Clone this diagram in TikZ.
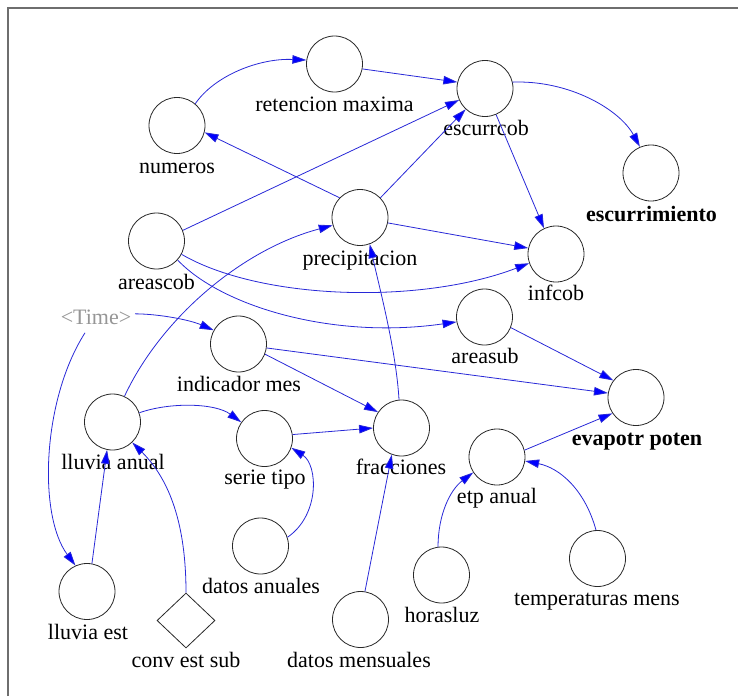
\documentclass[tikz,border=0pt]{standalone}
\usepackage{fontspec}
\setmainfont{Liberation Serif}
\usetikzlibrary{arrows.meta,shapes.geometric}
\definecolor{linkblue}{RGB}{40,40,215}
\definecolor{framegray}{RGB}{110,110,110}
\definecolor{timegray}{RGB}{150,150,150}
\definecolor{rim}{RGB}{40,40,40}
\begin{document}
\begin{tikzpicture}[x=1pt,y=-1pt,
  var/.style={circle,draw=rim,line width=0.8pt,minimum size=56pt,inner sep=0pt},
  lab/.style={anchor=base,font=\fontsize{22}{26}\selectfont,inner sep=0pt},
  blab/.style={lab,font=\fontsize{22}{26}\selectfont\bfseries},
  link/.style={draw=linkblue,line width=0.8pt,-{Triangle[length=14pt,width=8.5pt,fill=blue]}},
]
\useasboundingbox (0,0) rectangle (738,696);
% sheet border (top and left edges)
\draw[framegray,line width=1.2pt] (8,696) -- (8,8) -- (738,8);

% variables
\node[var] (ret)   at (334.5,64)  {};
\node[var] (num)   at (177,125.5) {};
\node[var] (acob)  at (156.5,241) {};
\node[var] (prec)  at (360,217.5) {};
\node[var] (escob) at (485,88.5)  {};
\node[var] (escu)  at (651,173)   {};
\node[var] (inf)   at (556,254)   {};
\node[var] (asub)  at (484.5,317) {};
\node[var] (ind)   at (238.5,344) {};
\node[var] (lla)   at (112.5,422) {};
\node[var] (ser)   at (264.5,438.5) {};
\node[var] (dan)   at (260.5,546) {};
\node[var] (lle)   at (87,591.5)  {};
\node[diamond,draw=rim,line width=0.8pt,minimum width=58pt,minimum height=55pt,inner sep=0pt] (conv) at (186,620.5) {};
\node[var] (dme)   at (360.5,619.5) {};
\node[var] (frac)  at (401.5,428) {};
\node[var] (evap)  at (636,397.5) {};
\node[var] (etp)   at (497,457)   {};
\node[var] (hor)   at (441.5,575) {};
\node[var] (tem)   at (597.5,558.5) {};

% names
\node[lab] (lret)   at (334.5,111) {retencion maxima};
\node[lab] (lnum)   at (177,173)   {numeros};
\node[lab] (lacob)  at (156.5,289) {areascob};
\node[lab] (lprec)  at (360,265)   {precipitacion};
\node[lab] (lescob) at (486,135)   {escurrcob};
\node[blab] (lescu) at (651.5,221) {escurrimiento};
\node[lab] (linf)   at (556,300)   {infcob};
\node[lab] (lasub)  at (485,363)   {areasub};
\node[lab] (lind)   at (239,391)   {indicador mes};
\node[lab] (llla)   at (113,469)   {lluvia anual};
\node[lab] (lser)   at (265,484)   {serie tipo};
\node[lab] (ldan)   at (261,593)   {datos anuales};
\node[lab] (llle)   at (88,639)    {lluvia est};
\node[lab] (lconv)  at (186,667)   {conv est sub};
\node[lab] (ldme)   at (359,667)   {datos mensuales};
\node[lab] (lfrac)  at (401,474)   {fracciones};
\node[blab] (levap) at (637,445)   {evapotr poten};
\node[lab] (letp)   at (497,503)   {etp anual};
\node[lab] (lhor)   at (442,622)   {horasluz};
\node[lab] (ltem)   at (597,605)   {temperaturas mens};
\node[lab,text=timegray] (time) at (96,324) {<Time>};

% links
\draw[link] (num.50) .. controls (215,75) and (260,58) .. (ret.172);
\draw[link] (ret.-10) -- (escob.167);
\draw[link] (acob.22) -- (escob.204);
\draw[link] (prec.44) -- (escob.227);
\draw[link] (prec.136) -- (num.-14);
\draw[link] (escob.13) .. controls (570,80) and (620,110) .. (escu.113);
\draw[link] (escob.-67) -- (inf.115);
\draw[link] (prec.-11) -- (inf.168);
\draw[link] (acob.-28) .. controls (260,300) and (420,305) .. (inf.199);
\draw[link] (acob.-42) .. controls (220,305) and (330,340) .. (asub.190);
\draw[link] ([shift={(39,-3)}]time.center) .. controls (160,314) and (190,320) .. (ind.151);
\draw[link] ([shift={(-11,16)}]time.center) .. controls (42,400) and (38,515) .. (lle.114);
\draw[link] (lla.65) .. controls (160,320) and (240,250) .. (prec.196);
\draw[link] (lle.80) -- (lla.259);
\draw[link] (conv.north) .. controls (186,525) and (170,480) .. (lla.-46);
\draw[link] (lla.19) .. controls (170,402) and (215,403) .. (ser.145);
\draw[link] (dan.18) .. controls (320,515) and (318,465) .. (ser.-19);
\draw[link] (ser.8) -- (frac.180);
\draw[link] (ind.-21) -- (frac.146);
\draw[link] (ind.-8) -- (evap.171);
\draw[link] (asub.-22) -- (evap.143);
\draw[link] (frac.95) .. controls (396,350) and (380,290) .. (prec.-70);
\draw[link] (dme.81) -- (frac.250);
\draw[link] (etp.14) -- (evap.214);
\draw[link] (hor.97) .. controls (438,515) and (450,490) .. (etp.213);
\draw[link] (tem.93) .. controls (585,490) and (560,468) .. (etp.-8);
\end{tikzpicture}
\end{document}
